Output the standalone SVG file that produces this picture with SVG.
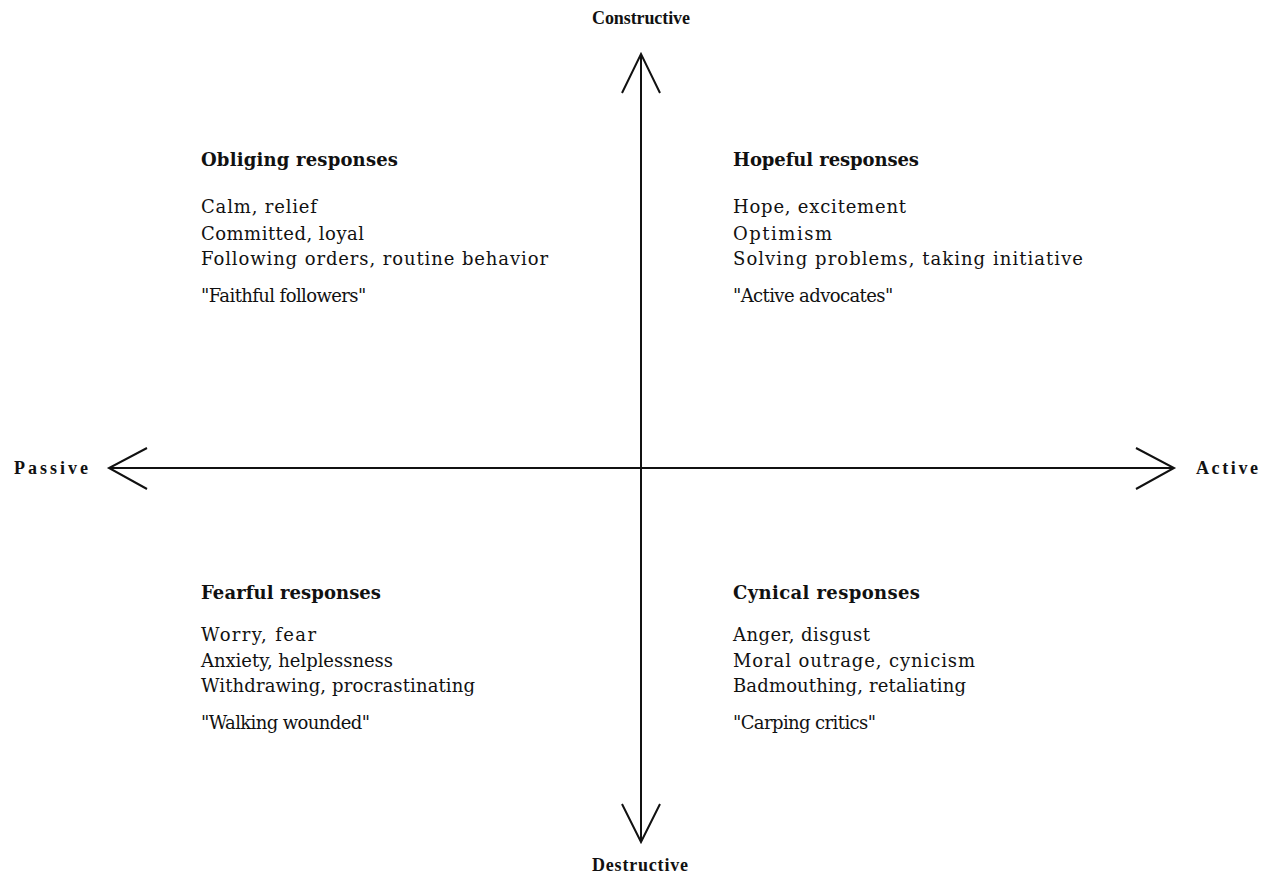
<svg xmlns="http://www.w3.org/2000/svg" width="1268" height="879" viewBox="0 0 1268 879">
<style>
text{font-family:"DejaVu Serif","Liberation Serif",serif;fill:#111;font-size:18px}
.h{font-weight:bold}
.q{letter-spacing:-0.6px}
.ax{font-family:"Liberation Serif",serif;font-weight:bold;font-size:18px}
.l{stroke:#111;stroke-width:2;fill:none}
</style>
<rect width="1268" height="879" fill="#fff"/>
<g id="connectors">
<line class="l" x1="641" y1="54" x2="641" y2="842"/>
<line class="l" x1="109" y1="468" x2="1174" y2="468"/>
<polyline class="l" points="622,93 641,54 660,93"/>
<polyline class="l" points="622,804 641,842 660,804"/>
<polyline class="l" points="147,448 109,468 147,489"/>
<polyline class="l" points="1136,448 1174,468 1136,489"/>
</g>
<g id="axis-labels">
<text class="ax" x="592" y="24" textLength="98">Constructive</text>
<text class="ax" x="592" y="871" textLength="96">Destructive</text>
<text class="ax" x="14" y="474" textLength="74">Passive</text>
<text class="ax" x="1196" y="474" textLength="62">Active</text>
</g>
<g id="obliging">
<text class="h" x="201" y="166" textLength="197">Obliging responses</text>
<text x="201" y="213" textLength="116">Calm, relief</text>
<text x="201" y="240" textLength="163">Committed, loyal</text>
<text x="201" y="265" textLength="347">Following orders, routine behavior</text>
<text class="q" x="201" y="302">"Faithful followers"</text>
</g>
<g id="hopeful">
<text class="h" x="733" y="166" textLength="186">Hopeful responses</text>
<text x="733" y="213" textLength="173">Hope, excitement</text>
<text x="733" y="240" textLength="99">Optimism</text>
<text x="733" y="265" textLength="350">Solving problems, taking initiative</text>
<text class="q" x="733" y="302">"Active advocates"</text>
</g>
<g id="fearful">
<text class="h" x="201" y="599" textLength="180">Fearful responses</text>
<text x="201" y="641" textLength="115">Worry, fear</text>
<text x="201" y="667" textLength="192">Anxiety, helplessness</text>
<text x="201" y="692" textLength="274">Withdrawing, procrastinating</text>
<text class="q" x="201" y="729">"Walking wounded"</text>
</g>
<g id="cynical">
<text class="h" x="733" y="599" textLength="187">Cynical responses</text>
<text x="733" y="641" textLength="137">Anger, disgust</text>
<text x="733" y="667" textLength="242">Moral outrage, cynicism</text>
<text x="733" y="692" textLength="233">Badmouthing, retaliating</text>
<text class="q" x="733" y="729">"Carping critics"</text>
</g>
</svg>
